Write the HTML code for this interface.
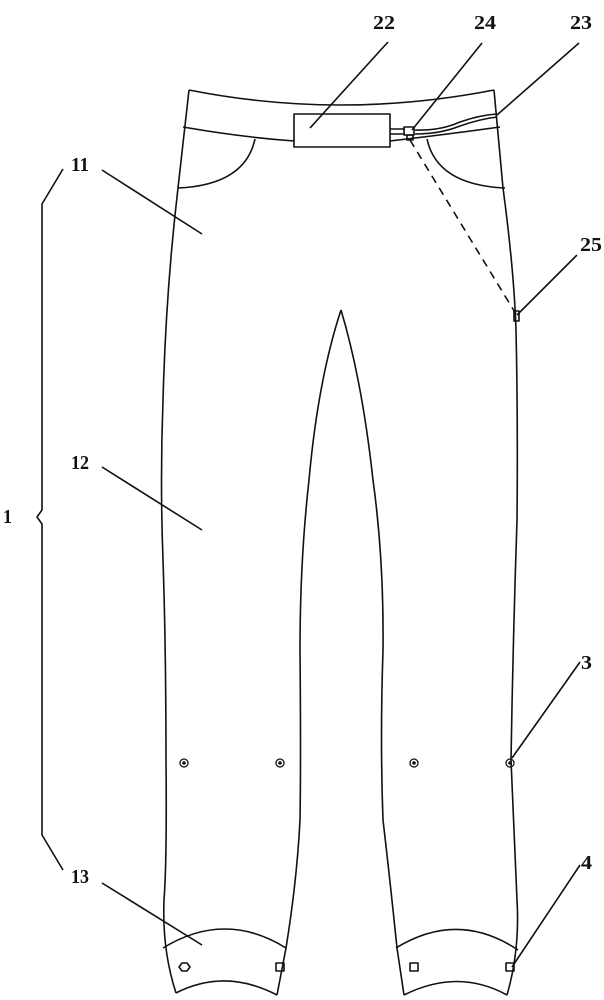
<!DOCTYPE html>
<html><head><meta charset="utf-8"><style>
html,body{margin:0;padding:0;background:#fff;}
svg{display:block;}
text{font-family:"Liberation Serif",serif;font-size:20px;font-weight:bold;fill:#111;}
</style></head><body>
<svg width="604" height="1000" viewBox="0 0 604 1000" xmlns="http://www.w3.org/2000/svg">
<g fill="none" stroke="#111" stroke-width="1.6" stroke-linejoin="round">
<path d="M189,90 Q340,120 494,90"/>
<path d="M183,127 Q240,137 294,141"/>
<path d="M390,141 Q450,134 500,127"/>
<rect x="294" y="114" width="96" height="33"/>
<path d="M189,90 L178,188 Q166,290 163,400 Q160,480 163,560 Q166,650 166,760 Q167,860 164,900 Q162,950 176,993"/>
<path d="M494,90 L503,188 Q514,270 516,330 Q518,420 517,520 Q513,640 511,760 Q515,850 517,900 Q520,950 507,995"/>
<path d="M255,139 Q245,185 178,188"/>
<path d="M427,139 Q437,185 505,188"/>
<path d="M341,310 Q318,380 309,480 Q300,560 300,650 Q301,760 300,820 Q297,880 286,948 L277,995"/>
<path d="M341,310 Q362,380 373,480 Q384,560 383,650 Q380,740 383,820 Q390,880 397,948 L404,995"/>
<path d="M163,948 Q225,910 286,948"/>
<path d="M176,993 Q225,968 277,995"/>
<path d="M396,948 Q458,910 518,950"/>
<path d="M404,995 Q458,968 507,995"/>
<path d="M390,129 L405,129 M390,134 L405,134"/>
<path d="M415,130 Q440,131 460,122 Q480,115 497,114"/>
<path d="M415,134 Q440,134 460,126 Q480,119 497,117"/>
<rect x="404" y="127" width="10" height="8"/>
<rect x="407" y="135" width="6" height="5"/>
<path d="M410,140 L516,314" stroke-dasharray="8,6"/>
<rect x="514" y="311" width="5" height="10"/>
<g stroke-width="1.3">
<circle cx="184" cy="763" r="4"/><circle cx="280" cy="763" r="4"/>
<circle cx="414" cy="763" r="4"/><circle cx="510" cy="763" r="4"/>
</g>
<g fill="#111" stroke="none">
<circle cx="184" cy="763" r="1.8"/><circle cx="280" cy="763" r="1.8"/>
<circle cx="414" cy="763" r="1.8"/><circle cx="510" cy="763" r="1.8"/>
</g>
<polygon points="182,963 187,963 190,967 187,971 182,971 179,967"/>
<rect x="276" y="963" width="8" height="8"/>
<rect x="410" y="963" width="8" height="8"/>
<rect x="506" y="963" width="8" height="8"/>
<path d="M388,42 L310,128"/>
<path d="M482,43 L412,130"/>
<path d="M579,43 L497,115"/>
<path d="M577,255 L517,315"/>
<path d="M102,170 L202,234"/>
<path d="M102,467 L202,530"/>
<path d="M102,883 L202,945"/>
<path d="M580,662 L512,758"/>
<path d="M580,865 L512,967"/>
<path d="M63,169 L42,204 L42,510 L37,517 L42,524 L42,835 L63,870"/>
</g>
<text x="373" y="29" textLength="22" lengthAdjust="spacingAndGlyphs">22</text>
<text x="474" y="29" textLength="22" lengthAdjust="spacingAndGlyphs">24</text>
<text x="570" y="29" textLength="22" lengthAdjust="spacingAndGlyphs">23</text>
<text x="580" y="251" textLength="22" lengthAdjust="spacingAndGlyphs">25</text>
<text x="71" y="171" textLength="18" lengthAdjust="spacingAndGlyphs">11</text>
<text x="71" y="469" textLength="18" lengthAdjust="spacingAndGlyphs">12</text>
<text x="71" y="883" textLength="18" lengthAdjust="spacingAndGlyphs">13</text>
<text x="3" y="523" textLength="9" lengthAdjust="spacingAndGlyphs">1</text>
<text x="581" y="669" textLength="11" lengthAdjust="spacingAndGlyphs">3</text>
<text x="581" y="869" textLength="11" lengthAdjust="spacingAndGlyphs">4</text>
</svg>
</body></html>
